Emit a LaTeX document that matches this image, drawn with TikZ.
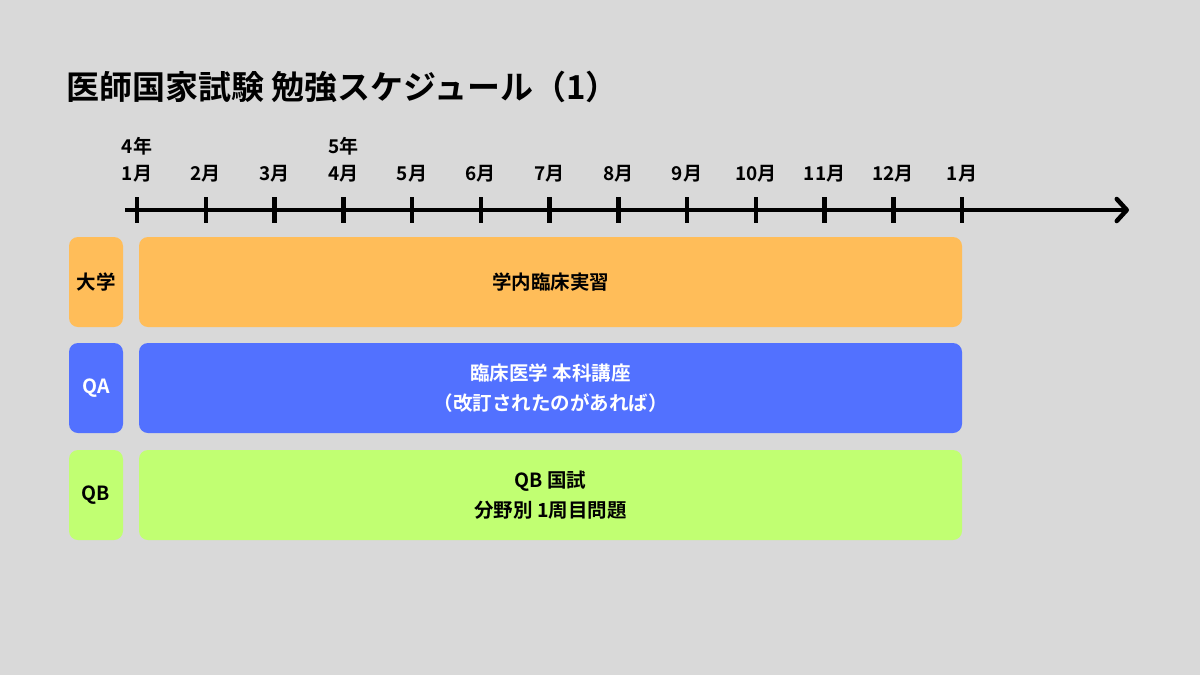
\documentclass[tikz,border=0pt]{standalone}
\usepackage{fontspec}
\setmainfont{Noto Sans CJK JP}[BoldFont={Noto Sans CJK JP Bold}]
\usetikzlibrary{arrows.meta}
\definecolor{bgc}{HTML}{D9D9D9}
\definecolor{orangec}{HTML}{FFBD59}
\definecolor{bluec}{HTML}{5271FF}
\definecolor{greenc}{HTML}{C1FF72}
\tikzset{
  monthlbl/.style={font=\fontsize{19}{21}\selectfont\bfseries, inner sep=0pt, anchor=base},
  yearlbl/.style={font=\fontsize{19}{21}\selectfont\bfseries, inner sep=0pt, anchor=base west},
  tickmark/.style={line width=4.5pt},
  rowbox/.style={rounded corners=9pt, draw=none, minimum height=90pt, inner sep=0pt, align=center, font=\fontsize{19.5}{30}\selectfont\bfseries},
}
\begin{document}
\begin{tikzpicture}[x=1pt,y=-1pt]
\useasboundingbox (0,0) rectangle (1200,675);
\fill[bgc] (0,0) rectangle (1200,675);
% title
\node[anchor=base west, inner sep=0pt, font=\fontsize{33}{36}\selectfont\bfseries] (title) at (66,99) {医師国家試験 勉強スケジュール（1）};
% axis
\coordinate (axs) at (125,210);
\coordinate (axe) at (1129,210);
\draw[line width=4.5pt, -{Straight Barb[length=10pt,width=22pt,line cap=round,line join=round]}] (axs) -- (axe);
\foreach \i/\m in {0/1,1/2,2/3,3/4,4/5,5/6,6/7,7/8,8/9,9/10,10/11,11/12,12/1}{
  \draw[tickmark] ({137+68.75*\i},197) -- ({137+68.75*\i},223);
  \node[monthlbl] (m\i) at ({137+68.75*\i},180) {\m 月};
}
\node[yearlbl] (y4) at (m0.west |- 0,153) {4年};
\node[yearlbl] (y5) at (m3.west |- 0,153) {5年};
% rows
\node[rowbox, fill=orangec, minimum width=54pt] (u) at (96,282) {大学};
\node[rowbox, fill=orangec, minimum width=823pt] (ub) at (550.5,282) {学内臨床実習};
\node[rowbox, fill=bluec, minimum width=54pt, text=white] (qa) at (96,388) {QA};
\node[rowbox, fill=bluec, minimum width=823pt, text=white] (qab) at (550.5,388) {臨床医学 本科講座\\（改訂されたのがあれば）};
\node[rowbox, fill=greenc, minimum width=54pt] (qb) at (96,495) {QB};
\node[rowbox, fill=greenc, minimum width=823pt] (qbb) at (550.5,495) {QB 国試\\分野別 1周目問題};
\end{tikzpicture}
\end{document}
